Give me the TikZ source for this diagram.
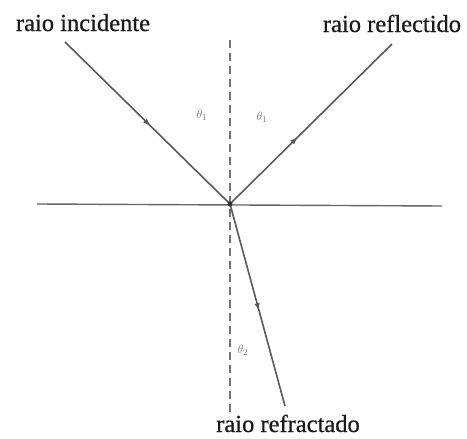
\documentclass[tikz,border=0pt]{standalone}
\usepackage{fontspec}
\setmainfont{Liberation Serif}
\newfontfamily\lblfont{Liberation Serif}[FakeBold=0.7]
\usetikzlibrary{decorations.markings,arrows.meta}
\begin{document}
\begin{tikzpicture}[x=1pt,y=-1pt,
  ray/.style={draw=black!65,line width=1.6pt},
  midarrow/.style={postaction={decorate},decoration={markings,mark=at position #1 with {\arrow{Latex[length=8pt,width=5.5pt]}}}},
  lbl/.style={font=\lblfont\fontsize{24.5}{28}\selectfont,text=black!90,anchor=base,inner sep=0pt},
  ang/.style={font=\fontsize{13}{15}\selectfont,text=black!55,inner sep=0pt}]
\useasboundingbox (0,0) rectangle (467,439);
\coordinate (O) at (230,204);
\coordinate (A) at (65,42);
\coordinate (B) at (392,44);
\coordinate (C) at (285,406);
\coordinate (L) at (37,204);
\coordinate (R) at (442,206);
\coordinate (T) at (230,40);
\coordinate (D) at (230,412);
\draw[black!60,line width=1.4pt] (L) -- (R);
\draw[black!55,line width=1.3pt,dash pattern=on 8pt off 5pt] (T) -- (D);
\draw[ray,midarrow=0.52] (A) -- (O);
\draw[ray,midarrow=0.42] (O) -- (B);
\draw[ray,midarrow=0.53] (O) -- (C);
\fill[black!80] (O) circle (2.5pt);
\node[lbl] (li) at (83,31) {raio incidente};
\node[lbl] (lr) at (392,32) {raio reflectido};
\node[lbl] (lf) at (288,432) {raio refractado};
\node[ang] (t1) at (202,115) {$\theta_1$};
\node[ang] (t2) at (262,117) {$\theta_1$};
\node[ang] (t3) at (243,350) {$\theta_2$};
\end{tikzpicture}
\end{document}
